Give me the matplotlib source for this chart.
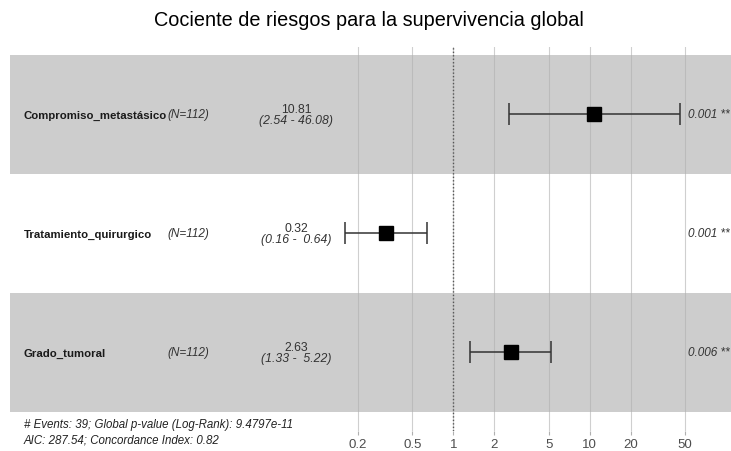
import numpy as np
import matplotlib.pyplot as plt
from matplotlib import transforms

plt.rcParams['font.family'] = ['Liberation Sans', 'DejaVu Sans']

title = "Cociente de riesgos para la supervivencia global"
variables = ["Compromiso_metastásico", "Tratamiento_quirurgico", "Grado_tumoral"]
n_obs = [112, 112, 112]
hr = [10.81, 0.32, 2.63]
ci_low = [2.54, 0.16, 1.33]
ci_high = [46.08, 0.64, 5.22]
p_values = ["0.001 **", "0.001 **", "0.006 **"]
ticks = [0.2, 0.5, 1, 2, 5, 10, 20, 50]
footer = ["# Events: 39; Global p-value (Log-Rank): 9.4797e-11",
          "AIC: 287.54; Concordance Index: 0.82"]

W, H = 731, 452
fig = plt.figure(figsize=(W / 100, H / 100), dpi=100)
ax = fig.add_axes([10 / W, (H - 432) / H, 721 / W, (432 - 48) / H])

ax.set_xscale('log')
ax.set_xlim(10 ** -3.25, 10 ** 2.036)
ax.set_ylim(2.66, -0.567)

rows = np.arange(len(variables))
for i in rows:
    if i % 2 == 0:
        ax.axhspan(i - 0.5, i + 0.5, color='#cdcdcd', zorder=0, lw=0)

for t in ticks:
    ax.axvline(t, color='#b0b0b0', lw=0.8, alpha=0.6, zorder=1)
ax.axvline(1, color='#555555', lw=1, ls=(0, (1, 1.5)), zorder=2)

ax.errorbar(hr, rows, xerr=[np.array(hr) - np.array(ci_low), np.array(ci_high) - np.array(hr)],
            fmt='s', color='black', ecolor='#333333', elinewidth=1.1, capsize=8,
            capthick=1.1, markersize=9.5, zorder=3)

tr = transforms.blended_transform_factory(ax.transAxes, ax.transData)
for i, name in enumerate(variables):
    ax.text(0.0194, i, name, transform=tr, fontsize=8.2, fontweight='bold',
            ha='left', va='center', color='#1a1a1a')
    ax.text(0.219, i, f"(N={n_obs[i]})", transform=tr, fontsize=8.5, style='italic',
            ha='left', va='center', color='#333333')
    ax.text(0.397, i - 0.05, f"{hr[i]:.2f}", transform=tr, fontsize=8.8,
            ha='center', va='center', color='#333333')
    ax.text(0.397, i + 0.05, f"({ci_low[i]:.2f} - {ci_high[i]:5.2f})", transform=tr,
            fontsize=8.8, style='italic', ha='center', va='center', color='#333333')
    ax.text(0.940, i, p_values[i], transform=tr, fontsize=8.5, style='italic',
            ha='left', va='center', color='#333333', clip_on=False)

ax.set_xticks(ticks)
ax.set_xticklabels([f"{t:g}" for t in ticks])
ax.minorticks_off()
ax.tick_params(axis='x', length=3, color='#b0b0b0', labelsize=9.5,
               labelcolor='#4d4d4d', pad=2)
ax.set_yticks([])
for s in ax.spines.values():
    s.set_visible(False)

fig.text(24 / W, 1 - 425 / H, footer[0], fontsize=8.3, style='italic',
         ha='left', va='center', color='#222222')
fig.text(24 / W, 1 - 441 / H, footer[1], fontsize=8.3, style='italic',
         ha='left', va='center', color='#222222')
fig.text(369 / W, 1 - 20 / H, title, fontsize=14.3, ha='center', va='center')

fig.savefig("out.png", dpi=100)
